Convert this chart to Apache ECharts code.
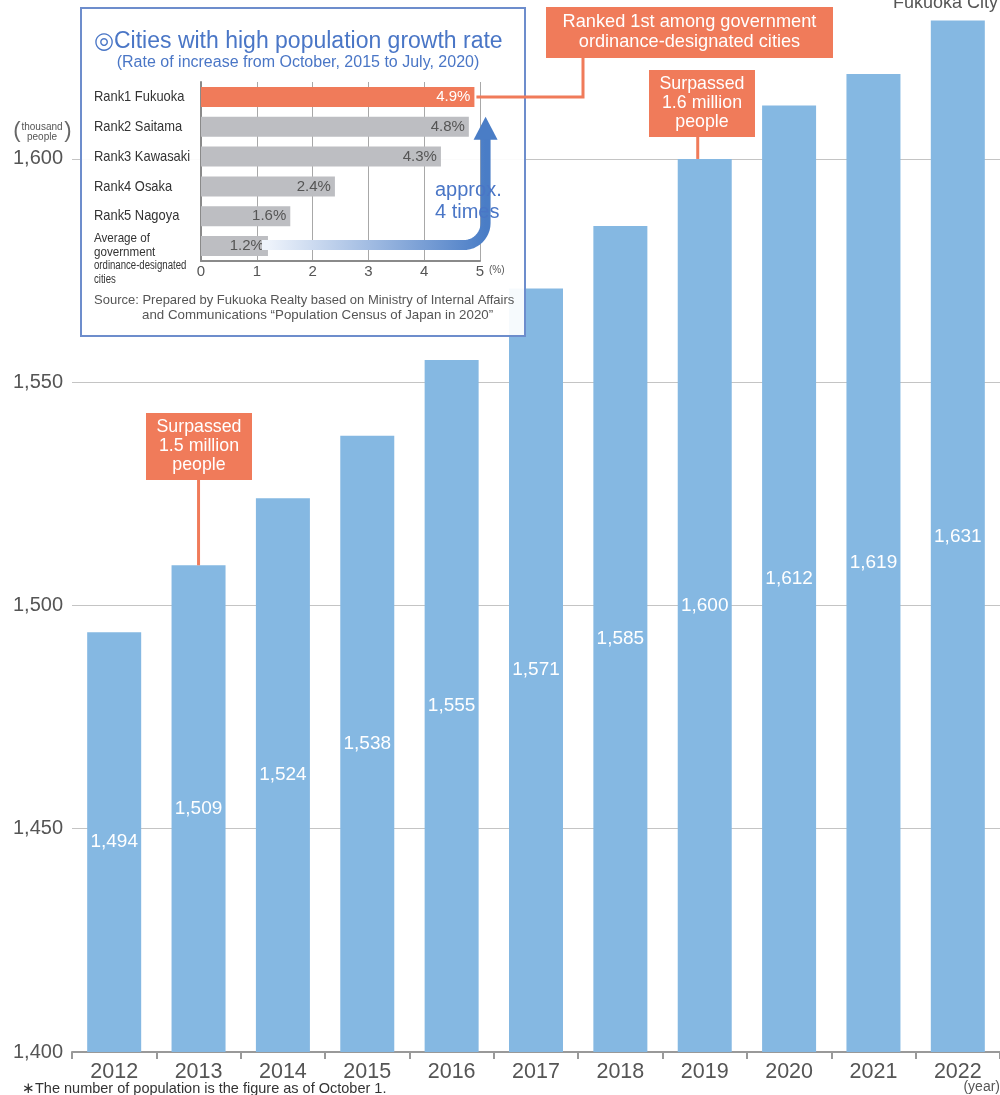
<!DOCTYPE html>
<html>
<head>
<meta charset="utf-8">
<script src="https://cdn.jsdelivr.net/npm/echarts@6/dist/echarts.min.js"></script>
<style>
html,body{margin:0;padding:0;background:#fff;}
#chart{width:1000px;height:1095px;}
</style>
</head>
<body>
<div id="chart"></div>
<script>
// ---- data ----
const years = ['2012','2013','2014','2015','2016','2017','2018','2019','2020','2021','2022'];
const population = [1494, 1509, 1524, 1538, 1555, 1571, 1585, 1600, 1612, 1619, 1631];
const rankCities = ['Rank1 Fukuoka','Rank2 Saitama','Rank3 Kawasaki','Rank4 Osaka','Rank5 Nagoya','Average of government ordinance-designated cities'];
const growthRates = [4.9, 4.8, 4.3, 2.4, 1.6, 1.2];
const highlightIndex = 0;

const FONT = '"Liberation Sans", Arial, sans-serif';
const BLUE_BAR = '#85b8e2';
const ORANGE = '#f07b5a';
const GRAY_BAR = '#bdbec2';
const TITLE_BLUE = '#4a76c6';

const chart = echarts.init(document.getElementById('chart'), null, {renderer: 'canvas'});

const option = {
  animation: false,
  backgroundColor: '#fff',
  grid: [
    {left: 72, right: 0, top: 0, bottom: 43},
    {left: 201, top: 82, width: 279, height: 179, z: 4}
  ],
  xAxis: [
    {
      type: 'category', gridIndex: 0, data: years, boundaryGap: true,
      axisLine: {show: true, lineStyle: {color: '#999', width: 2}},
      axisTick: {show: true, length: 7, lineStyle: {color: '#999', width: 2}},
      axisLabel: {color: '#555', fontSize: 21.5, fontFamily: FONT, margin: 9}
    },
    {
      type: 'value', gridIndex: 1, min: 0, max: 5, interval: 1, z: 4,
      axisLine: {show: true, onZero: false, lineStyle: {color: '#8a8a8a', width: 2}},
      axisTick: {show: false},
      splitLine: {show: true, lineStyle: {color: '#a8a8a8', width: 1}},
      axisLabel: {color: '#555', fontSize: 15, fontFamily: FONT, margin: 3}
    }
  ],
  yAxis: [
    {
      type: 'value', gridIndex: 0, min: 1400, max: 1635.6, interval: 50,
      axisLine: {show: false}, axisTick: {show: false},
      splitLine: {show: true, showMaxLine: false, lineStyle: {color: '#c4c4c4', width: 1}},
      axisLabel: {
        color: '#555', fontSize: 20, fontFamily: FONT, margin: 9, showMaxLabel: false,
        formatter: v => (v > 1630 ? '' : Number(v).toLocaleString('en-US'))
      }
    },
    {
      type: 'category', gridIndex: 1, data: rankCities, inverse: true, z: 4,
      axisLine: {show: true, lineStyle: {color: '#8a8a8a', width: 2}},
      axisTick: {show: false},
      axisLabel: {show: false}
    }
  ],
  series: [
    {
      type: 'bar', xAxisIndex: 0, yAxisIndex: 0, z: 2,
      data: population, barWidth: 54,
      itemStyle: {color: BLUE_BAR},
      label: {
        show: true, position: 'inside',
        color: '#fff', fontSize: 19, fontFamily: FONT,
        formatter: p => Number(p.value).toLocaleString('en-US')
      }
    },
    {
      type: 'bar', xAxisIndex: 1, yAxisIndex: 1, z: 5,
      barWidth: 20,
      data: growthRates.map((v, i) => ({
        value: v,
        itemStyle: {color: i === highlightIndex ? ORANGE : GRAY_BAR},
        label: {color: i === highlightIndex ? '#fff' : '#555'}
      })),
      label: {
        show: true, position: 'insideRight', distance: 4,
        fontSize: 15, fontFamily: FONT,
        formatter: p => p.value.toFixed(1) + '%'
      }
    }
  ]
};
chart.setOption(option);

// ---- annotations positioned from the axes ----
const P0 = (i, v) => chart.convertToPixel({xAxisIndex: 0, yAxisIndex: 0}, [i, v]);
const P1 = (v, i) => chart.convertToPixel({xAxisIndex: 1, yAxisIndex: 1}, [v, i]);

const g = [];
// inset box
g.push({type: 'rect', z: 3, shape: {x: 81, y: 8, width: 444, height: 328},
  style: {fill: 'rgba(255,255,255,0.93)', stroke: '#6d8dcc', lineWidth: 2}});
g.push({type: 'text', z: 6, style: {x: 94, y: 42, text: '\u25CECities with high population growth rate',
  fill: TITLE_BLUE, font: '23px ' + FONT, textVerticalAlign: 'middle'}});
g.push({type: 'text', z: 6, style: {x: 298, y: 63, text: '(Rate of increase from October, 2015 to July, 2020)',
  fill: TITLE_BLUE, font: '16px ' + FONT, textAlign: 'center', textVerticalAlign: 'middle'}});

// category labels (narrowed)
rankCities.forEach((name, i) => {
  const p = P1(0, i);
  if (name.indexOf('Average') === 0) {
    g.push({type: 'text', z: 6, scaleX: 0.86, originX: 94, style: {x: 94, y: 232, text: 'Average of\ngovernment',
      fill: '#333', font: '13.5px ' + FONT, lineHeight: 13.5, textVerticalAlign: 'top'}});
    g.push({type: 'text', z: 6, scaleX: 0.8, originX: 94, style: {x: 94, y: 259, text: 'ordinance-designated\ncities',
      fill: '#333', font: '12px ' + FONT, lineHeight: 13.5, textVerticalAlign: 'top'}});
  } else {
    g.push({type: 'text', z: 6, scaleX: 0.86, originX: 94, style: {x: 94, y: p[1], text: name,
      fill: '#333', font: '15px ' + FONT, textVerticalAlign: 'middle'}});
  }
});

const p5 = P1(5, 5);
g.push({type: 'text', z: 6, style: {x: p5[0] + 9, y: 270, text: '(%)',
  fill: '#555', font: '10px ' + FONT, textVerticalAlign: 'middle'}});
g.push({type: 'text', z: 6, style: {x: 94, y: 300, text: 'Source: Prepared by Fukuoka Realty based on Ministry of Internal Affairs',
  fill: '#555', font: '13px ' + FONT, textVerticalAlign: 'middle'}});
g.push({type: 'text', z: 6, style: {x: 142, y: 315, text: 'and Communications \u201CPopulation Census of Japan in 2020\u201D',
  fill: '#555', font: '13.3px ' + FONT, textVerticalAlign: 'middle'}});

// arrow from average bar to Fukuoka level
const avgEnd = P1(growthRates[5], 5);
const rank2 = P1(5.1, 1);
const xc = rank2[0];
const y0 = avgEnd[1] - 1;
const r = 22;
const yb = rank2[1] + 12;
const arrowPts = [[avgEnd[0] - 6, y0]];
for (let k = 0; k <= 12; k++) {
  const a = Math.PI / 2 * k / 12;
  arrowPts.push([xc - r + r * Math.sin(a), y0 - r + r * Math.cos(a)]);
}
arrowPts.push([xc, yb]);
g.push({type: 'polyline', z: 6,
  shape: {points: arrowPts},
  style: {fill: 'none', lineWidth: 10, lineJoin: 'round',
    stroke: {type: 'linear', x: avgEnd[0], y: 0, x2: xc, y2: 0, global: true,
      colorStops: [{offset: 0, color: '#eef3fb'}, {offset: 1, color: '#4a7dc6'}]}}});
g.push({type: 'polygon', z: 6, shape: {points: [[xc - 12, yb + 1], [xc + 12, yb + 1], [xc, rank2[1] - 10]]},
  style: {fill: '#4a7dc6'}});
g.push({type: 'text', z: 7, style: {x: 435, y: 179, text: 'approx.\n4 times',
  fill: TITLE_BLUE, font: '20px ' + FONT, lineHeight: 22, textVerticalAlign: 'top'}});

// Ranked 1st box and connector
const fEnd = P1(growthRates[0], 0);
g.push({type: 'polyline', z: 6, shape: {points: [[fEnd[0] + 2, fEnd[1]], [583, fEnd[1]], [583, 56]]},
  style: {stroke: ORANGE, lineWidth: 3, fill: 'none'}});
g.push({type: 'rect', z: 7, shape: {x: 546, y: 7, width: 287, height: 51}, style: {fill: ORANGE}});
g.push({type: 'text', z: 8, style: {x: 689.5, y: 32, text: 'Ranked 1st among government\nordinance-designated cities',
  fill: '#fff', font: '18.2px ' + FONT, lineHeight: 20, textAlign: 'center', textVerticalAlign: 'middle'}});

// Surpassed 1.6 million (2019)
const t19 = P0(7, population[7]);
g.push({type: 'line', z: 6, shape: {x1: t19[0] - 7, y1: 136, x2: t19[0] - 7, y2: t19[1]}, style: {stroke: ORANGE, lineWidth: 3}});
g.push({type: 'rect', z: 7, shape: {x: 649, y: 70, width: 106, height: 67}, style: {fill: ORANGE}});
g.push({type: 'text', z: 8, style: {x: 702, y: 103.5, text: 'Surpassed\n1.6 million\npeople',
  fill: '#fff', font: '17.8px ' + FONT, lineHeight: 19, textAlign: 'center', textVerticalAlign: 'middle'}});

// Surpassed 1.5 million (2013)
const t13 = P0(1, population[1]);
g.push({type: 'line', z: 6, shape: {x1: t13[0], y1: 479, x2: t13[0], y2: t13[1]}, style: {stroke: ORANGE, lineWidth: 3}});
g.push({type: 'rect', z: 7, shape: {x: 146, y: 413, width: 106, height: 67}, style: {fill: ORANGE}});
g.push({type: 'text', z: 8, style: {x: 199, y: 446.5, text: 'Surpassed\n1.5 million\npeople',
  fill: '#fff', font: '17.8px ' + FONT, lineHeight: 19, textAlign: 'center', textVerticalAlign: 'middle'}});

// legend-like label, units, footnote
g.push({type: 'text', z: 8, style: {x: 998, y: 3, text: 'Fukuoka City', fill: '#555', font: '18px ' + FONT,
  textAlign: 'right', textVerticalAlign: 'middle'}});
g.push({type: 'text', z: 8, style: {x: 42, y: 132, text: 'thousand\npeople', fill: '#555', font: '10px ' + FONT,
  lineHeight: 10, textAlign: 'center', textVerticalAlign: 'middle'}});
g.push({type: 'text', z: 8, style: {x: 17, y: 131, text: '(', fill: '#666', font: '22px ' + FONT,
  textAlign: 'center', textVerticalAlign: 'middle'}});
g.push({type: 'text', z: 8, style: {x: 68, y: 131, text: ')', fill: '#666', font: '22px ' + FONT,
  textAlign: 'center', textVerticalAlign: 'middle'}});
g.push({type: 'text', z: 8, style: {x: 1000, y: 1087, text: '(year)', fill: '#555', font: '14px ' + FONT,
  textAlign: 'right', textVerticalAlign: 'middle'}});
g.push({type: 'text', z: 8, style: {x: 22, y: 1089, text: '\u2217The number of population is the figure as of October 1.',
  fill: '#333', font: '14.5px ' + FONT, textVerticalAlign: 'middle'}});

chart.setOption({graphic: {elements: g}});
</script>
</body>
</html>
